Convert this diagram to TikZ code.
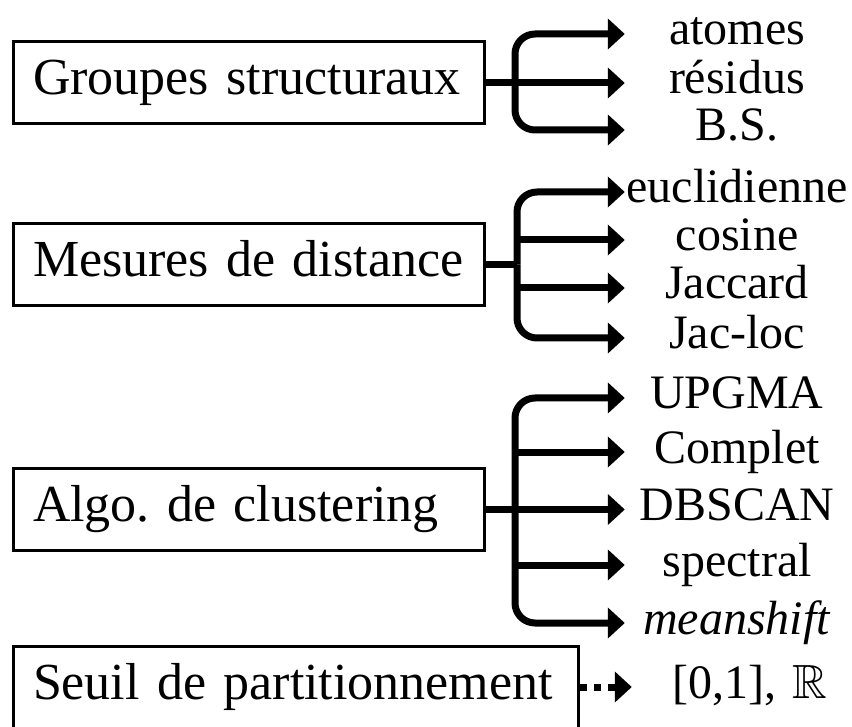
\documentclass[tikz,border=0pt]{standalone}
\usepackage{amssymb}
\usepackage{fontspec}
\setmainfont{Liberation Serif}
\usetikzlibrary{arrows.meta}
\frenchspacing

\begin{document}
\begin{tikzpicture}[
  x=1pt, y=-1pt,
  font=\fontsize{48}{56}\selectfont,
  grp/.style={draw, line width=3pt, anchor=west, text width=432pt, align=left,
              font=\fontsize{52}{60}\selectfont, minimum height=82pt,
              inner xsep=19.5pt, text height=36pt, text depth=12pt},
  opt/.style={text width=224pt, align=center, inner sep=0pt,
              text height=33pt, text depth=11pt},
  arr/.style={-{Triangle[length=17pt,width=30pt]}, line width=7pt},
  branch/.style={arr, rounded corners=20pt},
  link/.style={line width=7pt},
  dotarr/.style={arr, dash pattern=on 7pt off 7pt}
]
\useasboundingbox (0,0) rectangle (852,727);

\node[grp] (grpStruct) at (12,83)    {Groupes structuraux};
\node[grp] (grpDist)   at (12,264.5) {Mesures de distance};
\node[grp] (grpAlgo)   at (12,509.5) {Algo. de clustering};
\node[grp, text width=526pt] (grpSeuil) at (12,687) {Seuil de partitionnement};

\node[opt] (atomes)  at (737,34)  {atomes};
\node[opt] (residus) at (737,83)  {résidus};
\node[opt] (bs)      at (737,130) {B.S.};

\node[opt] (eucl)    at (737,192) {euclidienne};
\node[opt] (cosine)  at (737,240) {cosine};
\node[opt] (jaccard) at (737,288) {Jaccard};
\node[opt] (jacloc)  at (737,338) {Jac-loc};

\node[opt] (upgma)     at (737,398)   {UPGMA};
\node[opt] (complet)   at (737,452)   {Complet};
\node[opt] (dbscan)    at (737,509.5) {DBSCAN};
\node[opt] (spectral)  at (737,565)   {spectral};
\node[opt] (meanshift) at (737,623)   {\textit{meanshift}};

\node[opt, text width=236pt] (seuilval) at (750,687) {[0,1], $\mathbb{R}$};

\coordinate (jStruct) at (515,83);
\coordinate (jDist)   at (517,264.5);
\coordinate (jAlgo)   at (515,509.5);

\draw[arr] (grpStruct.east) -- (residus.west);
\draw[branch] (jStruct) |- (atomes.west);
\draw[branch] (jStruct) |- (bs.west);

\draw[link] (grpDist.east) -- (jDist);
\draw[branch] (jDist) |- (eucl.west);
\draw[branch] (jDist) |- (jacloc.west);
\draw[arr] (jDist |- cosine.west) -- (cosine.west);
\draw[arr] (jDist |- jaccard.west) -- (jaccard.west);

\draw[arr] (grpAlgo.east) -- (dbscan.west);
\draw[branch] (jAlgo) |- (upgma.west);
\draw[branch] (jAlgo) |- (meanshift.west);
\draw[arr] (jAlgo |- complet.west) -- (complet.west);
\draw[arr] (jAlgo |- spectral.west) -- (spectral.west);

\draw[dotarr] (grpSeuil.east) -- (seuilval.west);

\end{tikzpicture}
\end{document}
